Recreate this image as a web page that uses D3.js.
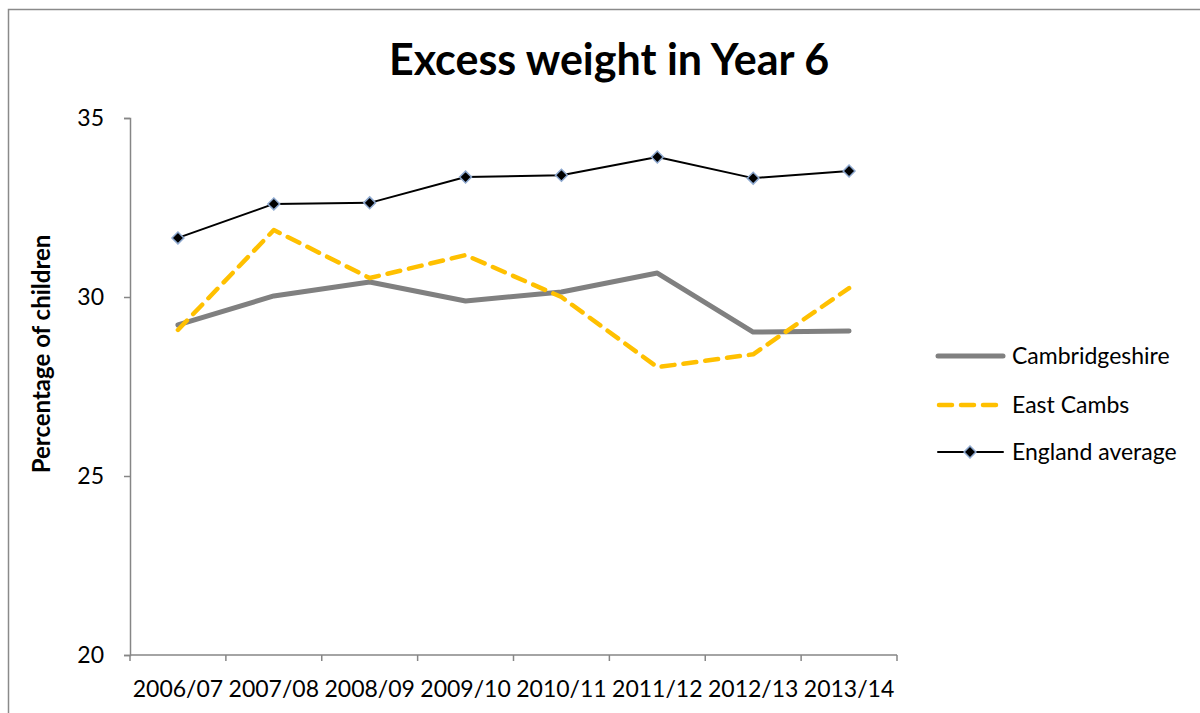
<!DOCTYPE html>
<html>
<head>
<meta charset="utf-8">
<script src="https://cdn.jsdelivr.net/npm/d3@7"></script>
<style>
  html, body { margin: 0; padding: 0; background: #fff; }
  svg { display: block; font-family: Lato, "Open Sans", sans-serif; }
</style>
</head>
<body>
<svg id="chart" width="1200" height="713"></svg>
<script>
// Years of the National Child Measurement Programme
const years = ["2006/07", "2007/08", "2008/09", "2009/10", "2010/11", "2011/12", "2012/13", "2013/14"];
// Percentage of Year 6 children with excess weight
const cambridgeshire = [29.22, 30.03, 30.42, 29.89, 30.14, 30.67, 29.02, 29.05];
const eastCambs      = [29.08, 31.87, 30.53, 31.17, 30.00, 28.04, 28.40, 30.25];
const englandAverage = [31.65, 32.60, 32.63, 33.35, 33.40, 33.91, 33.32, 33.52];
const yTicks = [20, 25, 30, 35];

const series = [
  { name: "Cambridgeshire", values: cambridgeshire, color: "#808080", width: 5, dash: null, marker: false },
  { name: "East Cambs", values: eastCambs, color: "#FFC000", width: 4.5, dash: "13,9", marker: false },
  { name: "England average", values: englandAverage, color: "#000000", width: 2, dash: null, marker: true }
];

const svg = d3.select("#chart");
const axisColor = "#868686";

// Outer chart border
svg.append("rect")
  .attr("x", 8.5).attr("y", 9.5)
  .attr("width", 1300).attr("height", 800)
  .attr("fill", "none").attr("stroke", "#8a8a8a").attr("stroke-width", 1.5);

const plot = { left: 130, right: 897, top: 118, bottom: 655 };

const x = d3.scaleBand().domain(years).range([plot.left, plot.right]);
const y = d3.scaleLinear().domain([20, 35]).range([plot.bottom, plot.top]);

// Title
svg.append("text")
  .attr("x", 609).attr("y", 75)
  .attr("text-anchor", "middle")
  .attr("font-size", 43).attr("font-weight", "bold")
  .text("Excess weight in Year 6");

// Y axis
const yAxis = svg.append("g")
  .attr("transform", `translate(${plot.left},0)`)
  .call(d3.axisLeft(y).tickValues(yTicks).tickSize(6).tickPadding(20));
yAxis.select(".domain").attr("stroke", axisColor).attr("stroke-width", 1.5);
yAxis.selectAll(".tick line").attr("stroke", axisColor).attr("stroke-width", 1.5);
yAxis.selectAll(".tick text").attr("font-size", 23).attr("fill", "#000").attr("font-family", "Lato, sans-serif");

// X axis with ticks between categories
const xAxisG = svg.append("g").attr("transform", `translate(0,${plot.bottom})`);
xAxisG.append("line")
  .attr("x1", plot.left).attr("x2", plot.right)
  .attr("stroke", axisColor).attr("stroke-width", 1.5);
const boundaries = years.map(d => x(d)).concat([plot.right]);
xAxisG.selectAll("line.tick").data(boundaries).join("line")
  .attr("class", "tick")
  .attr("x1", d => d).attr("x2", d => d)
  .attr("y1", 0).attr("y2", 6)
  .attr("stroke", axisColor).attr("stroke-width", 1.5);
xAxisG.selectAll("text").data(years).join("text")
  .attr("x", d => x(d) + x.bandwidth() / 2)
  .attr("y", 42)
  .attr("text-anchor", "middle")
  .attr("font-size", 23)
  .text(d => d);

// Y axis title
svg.append("text")
  .attr("transform", "translate(50,354) rotate(-90)")
  .attr("text-anchor", "middle")
  .attr("font-size", 24).attr("font-weight", "bold")
  .text("Percentage of children");

// Series lines
const line = d3.line()
  .x((d, i) => x(years[i]) + x.bandwidth() / 2)
  .y(d => y(d));

series.forEach(s => {
  svg.append("path")
    .datum(s.values)
    .attr("d", line)
    .attr("fill", "none")
    .attr("stroke", s.color)
    .attr("stroke-width", s.width)
    .attr("stroke-linejoin", "round")
    .attr("stroke-linecap", "round")
    .attr("stroke-dasharray", s.dash);
});

// Diamond markers for the England average
const diamond = d3.symbol().type(d3.symbolDiamond2).size(90);
const englandSeries = series[2];
svg.selectAll("path.marker").data(englandSeries.values).join("path")
  .attr("class", "marker")
  .attr("transform", (d, i) => `translate(${x(years[i]) + x.bandwidth() / 2},${y(d)})`)
  .attr("d", diamond)
  .attr("fill", "#000")
  .attr("stroke", "#8EA9D0")
  .attr("stroke-width", 1.5);

// Legend
const legendY = [356, 405, 452];
const legend = svg.append("g");
series.forEach((s, i) => {
  const g = legend.append("g").attr("transform", `translate(0,${legendY[i]})`);
  g.append("line")
    .attr("x1", s.dash ? 939 : 938).attr("x2", s.dash ? 1000 : 1003)
    .attr("stroke", s.color).attr("stroke-width", s.width)
    .attr("stroke-linecap", "round")
    .attr("stroke-dasharray", s.dash);
  if (s.marker) {
    g.append("path")
      .attr("transform", "translate(970,0)")
      .attr("d", diamond)
      .attr("fill", "#000").attr("stroke", "#8EA9D0").attr("stroke-width", 1.5);
  }
  g.append("text")
    .attr("x", 1012).attr("y", 8)
    .attr("font-size", 23)
    .text(s.name);
});
</script>
</body>
</html>
